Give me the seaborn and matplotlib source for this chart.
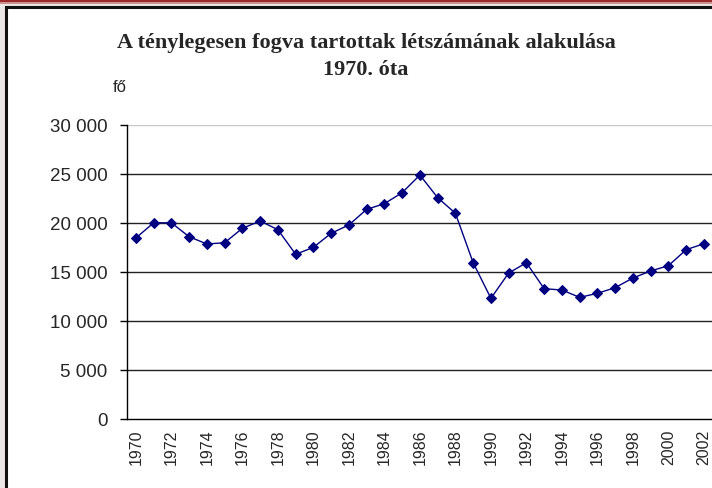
import numpy as np
import pandas as pd
import matplotlib.pyplot as plt
import seaborn as sns
from matplotlib.lines import Line2D
from matplotlib.patches import Rectangle

years = list(range(1970, 2003))
inmates = [18450, 20000, 20000, 18580, 17840, 17970, 19440, 20180, 19300, 16790,
           17500, 18930, 19780, 21370, 21950, 23070, 24870, 22560, 20970, 15930,
           12300, 14880, 15930, 13280, 13150, 12400, 12810, 13390, 14370, 15090,
           15630, 17260, 17870]
y_ticks = [0, 5000, 10000, 15000, 20000, 25000, 30000]
y_labels = ['0', '5 000', '10 000', '15 000', '20 000', '25 000', '30 000']
x_label_years = list(range(1970, 2003, 2))

df = pd.DataFrame({'Év': years, 'Fő': inmates})

sns.set_style('white')
plt.rcParams['font.family'] = ['Liberation Sans', 'DejaVu Sans']

W, H = 712, 489
fig = plt.figure(figsize=(W / 100, H / 100), dpi=100)
fig.patch.set_facecolor('#ebe7e7')

# white chart box with black border
fig.add_artist(Rectangle((6 / W, -0.05), 1.1, (H - 8) / H + 0.05, transform=fig.transFigure,
                         facecolor='white', edgecolor='#111111', linewidth=2.2, zorder=0))
# red decorative lines at the top
fig.add_artist(Line2D([0, 1], [1 - 1.5 / H, 1 - 1.5 / H], transform=fig.transFigure,
                      color='#9b2a2a', linewidth=1.5))
fig.add_artist(Line2D([0, 1], [1 - 4 / H, 1 - 4 / H], transform=fig.transFigure,
                      color='#c98080', linewidth=1.2))

left, right = 127 / W, 712.8 / W
bottom, top = (H - 420) / H, (H - 125.7) / H
ax = fig.add_axes([left, bottom, right - left, top - bottom])
ax.set_facecolor('none')

for v in y_ticks[1:]:
    ax.axhline(v, color='#c8c8c8' if v == 30000 else '#222222', linewidth=1, zorder=1)

sns.lineplot(data=df, x='Év', y='Fő', ax=ax, color='#000080', linewidth=1,
             marker='D', markersize=5.5, markeredgecolor='#000080', zorder=3)

ax.set_xlim(1969.5, 2002.5)
ax.set_ylim(0, 30000)
ax.set_xlabel('')
ax.set_ylabel('')

ax.set_yticks(y_ticks)
ax.set_yticklabels(y_labels, fontsize=13.5)
ax.set_xticks(x_label_years)
ax.set_xticklabels([str(y) for y in x_label_years], rotation=90, fontsize=11.5)
ax.set_xticks(np.arange(1969.5, 2003, 1), minor=True)
ax.tick_params(axis='x', which='major', length=0, pad=7)
ax.tick_params(axis='x', which='minor', length=5, width=1, color='black', direction='out')
ax.tick_params(axis='y', length=5, width=1, color='black', direction='out', pad=9, left=True)

for s in ['top', 'right']:
    ax.spines[s].set_visible(False)
for s in ['left', 'bottom']:
    ax.spines[s].set_color('black')
    ax.spines[s].set_linewidth(1)

serif = ['Liberation Serif', 'DejaVu Serif']
fig.text(366 / W, 1 - 43 / H, 'A ténylegesen fogva tartottak létszámának alakulása',
         ha='center', va='center', fontsize=16, fontweight='bold', family=serif)
fig.text(366 / W, 1 - 70 / H, '1970. óta',
         ha='center', va='center', fontsize=16, fontweight='bold', family=serif)
fig.text(113 / W, 1 - 88 / H, 'fő', ha='left', va='center', fontsize=12)

fig.savefig('out.png', dpi=100)
